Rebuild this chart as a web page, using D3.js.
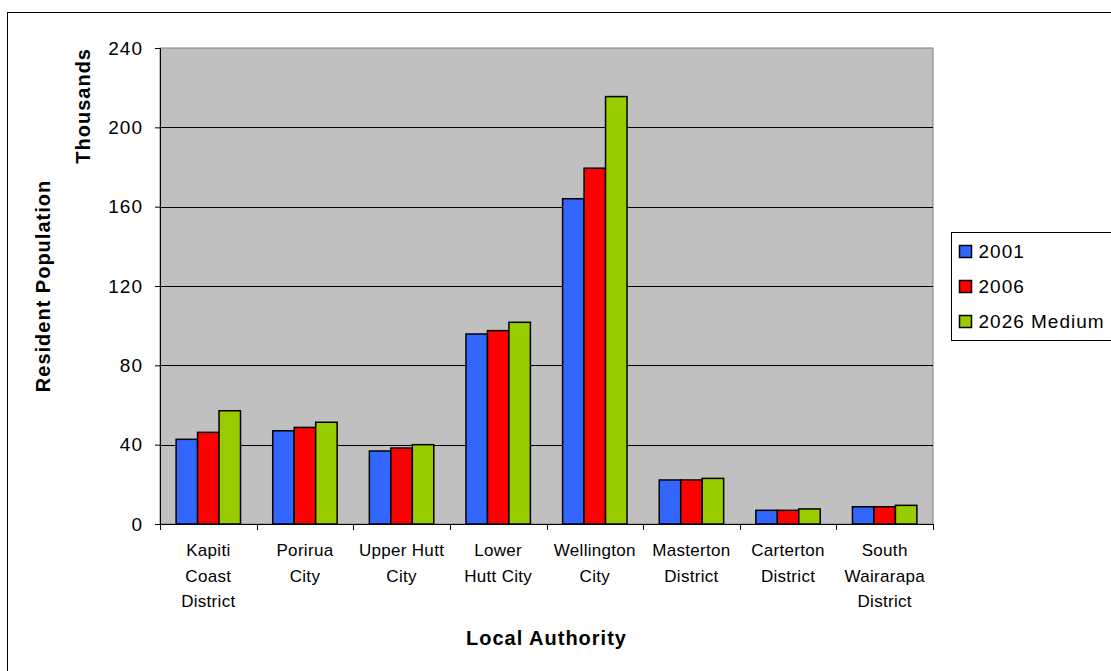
<!DOCTYPE html>
<html>
<head>
<meta charset="utf-8">
<script src="https://cdn.jsdelivr.net/npm/d3@7"></script>
<style>
  body { margin: 0; background: #fff; }
  text { font-family: "Liberation Sans", Arial, sans-serif; fill: #000; }
</style>
</head>
<body>
<div id="chart"></div>
<script>
// data (thousands)
var authorities = [
  ['Kapiti', 'Coast', 'District'],
  ['Porirua', 'City'],
  ['Upper Hutt', 'City'],
  ['Lower', 'Hutt City'],
  ['Wellington', 'City'],
  ['Masterton', 'District'],
  ['Carterton', 'District'],
  ['South', 'Wairarapa', 'District']
];
var seriesNames = ['2001', '2006', '2026 Medium'];
var pop2001 = [42.7, 47.0, 36.8, 95.8, 164.0, 22.2, 6.9, 8.7];
var pop2006 = [46.2, 48.7, 38.3, 97.5, 179.4, 22.2, 6.9, 8.7];
var pop2026 = [57.1, 51.3, 40.0, 101.7, 215.5, 23.0, 7.6, 9.4];
var yTicks = [0, 40, 80, 120, 160, 200, 240];
var colors = ['#3366ff', '#ff0000', '#99cc00'];

var W = 1111, H = 671;
var margin = { top: 48, left: 160, bottom: 147, right: 178 },
    width = W - margin.left - margin.right,
    height = H - margin.top - margin.bottom;

var svgRoot = d3.select('#chart').append('svg')
  .attr('width', W)
  .attr('height', H);

// outer chart border
svgRoot.append('rect')
  .attr('x', 7.5).attr('y', 12.5)
  .attr('width', 1200).attr('height', 1000)
  .attr('fill', 'none')
  .attr('stroke', '#000')
  .attr('stroke-width', 1);

var svg = svgRoot.append('g')
  .attr('transform', 'translate(' + margin.left + ',' + margin.top + ')');

var keys = authorities.map((d, i) => i);
var x = d3.scaleBand().domain(keys).range([0, width]).paddingInner(0).paddingOuter(0);
var x1 = d3.scaleBand().domain(d3.range(seriesNames.length))
  .range([0, x.bandwidth() / 1.5]);
var y = d3.scaleLinear().domain([0, 240]).range([height, 0]);

// plot area
svg.append('rect')
  .attr('width', width).attr('height', height)
  .attr('fill', '#c0c0c0')
  .attr('stroke', '#808080')
  .attr('stroke-width', 1);

// gridlines
svg.selectAll('.grid')
  .data(yTicks.filter(d => d > 0 && d < 240))
  .enter().append('line')
  .attr('class', 'grid')
  .attr('x1', 0).attr('x2', width)
  .attr('y1', d => Math.round(y(d)) + 0.5)
  .attr('y2', d => Math.round(y(d)) + 0.5)
  .attr('stroke', '#000')
  .attr('stroke-width', 1);

// bars
var all = [pop2001, pop2006, pop2026];
var groupOffset = (x.bandwidth() - x1.range()[1]) / 2;
all.forEach(function (vals, s) {
  svg.selectAll('.bar' + s)
    .data(vals)
    .enter().append('rect')
    .attr('class', 'bar' + s)
    .attr('x', (d, i) => x(i) + groupOffset + x1(s))
    .attr('y', d => y(d))
    .attr('width', x1.bandwidth())
    .attr('height', d => height - y(d))
    .attr('fill', colors[s])
    .attr('stroke', '#000')
    .attr('stroke-width', 1.5);
});

// y axis
var yAxis = d3.axisLeft(y).tickValues(yTicks).tickSize(5).tickPadding(12);
var ya = svg.append('g').call(yAxis);
ya.select('.domain').attr('stroke', '#000');
ya.selectAll('text').style('font-size', '19px').style('letter-spacing', '1px');

// x axis
var xAxis = svg.append('g').attr('transform', 'translate(0,' + height + ')');
xAxis.append('line')
  .attr('x1', 0).attr('x2', width)
  .attr('y1', 0.5).attr('y2', 0.5)
  .attr('stroke', '#000');
xAxis.selectAll('.xtick')
  .data(d3.range(authorities.length + 1))
  .enter().append('line')
  .attr('x1', d => Math.round(d * x.step()) + 0.5)
  .attr('x2', d => Math.round(d * x.step()) + 0.5)
  .attr('y1', 0).attr('y2', 6)
  .attr('stroke', '#000');
var labels = xAxis.selectAll('.xlab')
  .data(authorities)
  .enter().append('text')
  .attr('text-anchor', 'middle')
  .style('font-size', '17px')
  .style('letter-spacing', '0.3px')
  .attr('transform', (d, i) => 'translate(' + (x(i) + x.bandwidth() / 2) + ',32)');
labels.selectAll('tspan')
  .data(d => d)
  .enter().append('tspan')
  .attr('x', 0)
  .attr('dy', (d, i) => i === 0 ? 0 : 25.5)
  .text(d => d);

// axis titles
svg.append('text')
  .attr('x', width / 2)
  .attr('y', height + 121)
  .attr('text-anchor', 'middle')
  .style('font-size', '20px')
  .style('font-weight', 'bold')
  .style('letter-spacing', '1px')
  .text('Local Authority');

svg.append('text')
  .attr('transform', 'translate(' + (50 - margin.left) + ',' + (height / 2) + ') rotate(-90)')
  .attr('text-anchor', 'middle')
  .style('font-size', '20px')
  .style('font-weight', 'bold')
  .style('letter-spacing', '1px')
  .text('Resident Population');

svg.append('text')
  .attr('transform', 'translate(' + (90 - margin.left) + ',0) rotate(-90)')
  .attr('text-anchor', 'end')
  .style('font-size', '20px')
  .style('font-weight', 'bold')
  .style('letter-spacing', '1px')
  .text('Thousands');

// legend
var legend = svgRoot.append('g').attr('transform', 'translate(951.5,232.5)');
legend.append('rect')
  .attr('width', 300).attr('height', 108)
  .attr('fill', '#fff')
  .attr('stroke', '#000');
var items = legend.selectAll('.item')
  .data(seriesNames)
  .enter().append('g')
  .attr('transform', (d, i) => 'translate(0,' + (19 + i * 35) + ')');
items.append('rect')
  .attr('x', 8).attr('y', -6)
  .attr('width', 12).attr('height', 12)
  .attr('fill', (d, i) => colors[i])
  .attr('stroke', '#000')
  .attr('stroke-width', 1.5);
items.append('text')
  .attr('x', 27).attr('y', 6.5)
  .style('font-size', '19px')
  .style('letter-spacing', '1px')
  .text(d => d);
</script>
</body>
</html>
